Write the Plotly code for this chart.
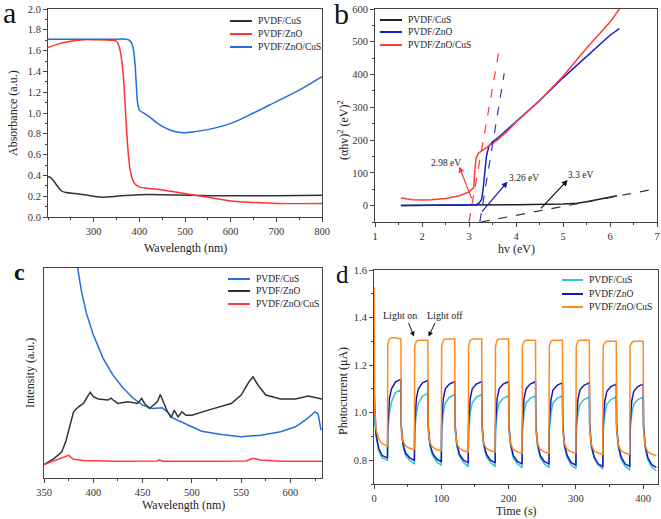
import plotly.graph_objects as go

# ---------------- panel a : UV-vis absorbance ----------------
a_cus_x = [200, 205, 210, 220, 230, 240, 260, 280, 300, 320, 340, 360, 400, 450, 500, 550, 600, 700, 800]
a_cus_y = [0.39, 0.38, 0.36, 0.30, 0.25, 0.235, 0.225, 0.215, 0.20, 0.19, 0.195, 0.205, 0.215, 0.215, 0.21, 0.205, 0.205, 0.205, 0.21]

a_zno_x = [200, 220, 250, 280, 300, 340, 350, 355, 360, 365, 370, 375, 380, 385, 390, 400, 420, 450, 500, 550, 600, 650, 700, 800]
a_zno_y = [1.63, 1.66, 1.69, 1.705, 1.705, 1.70, 1.69, 1.65, 1.55, 1.35, 1.00, 0.65, 0.45, 0.36, 0.32, 0.29, 0.275, 0.26, 0.225, 0.19, 0.155, 0.14, 0.13, 0.13]

a_zc_x = [200, 300, 350, 370, 378, 385, 390, 393, 396, 398, 400, 420, 440, 460, 480, 500, 520, 550, 600, 650, 700, 750, 800]
a_zc_y = [1.71, 1.71, 1.71, 1.71, 1.70, 1.65, 1.50, 1.30, 1.10, 1.06, 1.03, 0.97, 0.90, 0.85, 0.82, 0.81, 0.82, 0.84, 0.90, 1.00, 1.11, 1.22, 1.35]

# ---------------- panel b : Tauc plot ----------------
b_cus_x = [1.55, 3.0, 4.0, 5.0, 5.3, 5.5, 5.8, 6.0, 6.15]
b_cus_y = [0, 1, 3, 5, 7, 12, 20, 26, 30]

b_zno_x = [1.55, 3.0, 3.15, 3.22, 3.27, 3.30, 3.33, 3.37, 3.42, 3.5, 3.6, 3.8, 4.0, 4.5, 5.0, 5.5, 5.8, 6.0, 6.2]
b_zno_y = [0, 1, 3, 8, 20, 50, 100, 150, 180, 195, 205, 230, 258, 320, 390, 455, 495, 520, 540]

b_zc_x = [1.55, 1.8, 2.0, 2.2, 2.5, 2.8, 3.0, 3.1, 3.12, 3.15, 3.2, 3.4, 3.6, 3.8, 4.0, 4.5, 5.0, 5.5, 6.0, 6.2]
b_zc_y = [23, 18, 17, 18, 22, 30, 42, 55, 100, 145, 160, 180, 200, 225, 255, 320, 395, 480, 560, 600]

# fitted tangent lines (dashed)
b_fit_zc_x = [3.0, 3.66]
b_fit_zc_y = [-50, 491]
b_fit_zno_x = [3.23, 3.75]
b_fit_zno_y = [-50, 404]
b_fit_cus_x = [3.25, 6.86]
b_fit_cus_y = [-50, 48]

# ---------------- panel c : PL spectra ----------------
c_cus_x = [380, 384, 388, 393, 400, 410, 420, 430, 440, 450, 460, 470, 475, 480, 490, 500, 510, 530, 550, 570, 590, 605, 615, 625, 628, 631]
c_cus_y = [112, 100, 88.9, 78.5, 68.2, 57.0, 49.0, 43.0, 38.2, 34.7, 33.1, 33.4, 31.5, 28.7, 26.4, 24.4, 22.3, 20.7, 19.6, 20.4, 22.0, 24.4, 27.5, 31.5, 30.6, 22.8]

c_zno_x = [350, 360, 368, 372, 376, 380, 385, 390, 395, 397, 400, 405, 415, 418, 421, 425, 435, 445, 449, 452, 457, 462, 465, 468, 471, 475, 479, 482,
           486, 490, 494, 500, 520, 540, 550, 557, 562, 567, 575, 590, 605, 618, 632]
c_zno_y = [6.4, 9.2, 12.4, 17.2, 24.4, 31.5, 33.9, 35.5, 39.5, 40.8, 38.7, 37.6, 37.1, 38.0, 36.8, 35.5, 36.3, 35.5, 37.9, 35.5, 33.1, 35.2, 36.3, 39.8,
           36.3, 31.8, 28.7, 32.3, 29.1, 31.5, 29.9, 29.9, 32.8, 35.5, 39.5, 45.1, 48.2, 44.3, 39.5, 37.6, 37.6, 39.0, 37.6]

c_zc_x = [350, 365, 375, 380, 390, 420, 465, 467, 470, 520, 555, 562, 570, 590, 632]
c_zc_y = [6.4, 9.2, 10.8, 8.9, 8.3, 8.0, 8.1, 8.6, 8.0, 8.0, 8.1, 9.4, 8.6, 8.0, 8.0]

# ---------------- panel d : photocurrent on/off ----------------
d_t = [0, 1, 3, 7, 12, 19.5,
       20, 20.5, 23, 26, 32, 39.5, 40, 40.5, 43, 47, 53, 59.5,
       60, 60.5, 63, 66, 72, 79.5, 80, 80.5, 83, 87, 93, 99.5,
       100, 100.5, 103, 106, 112, 119.5, 120, 120.5, 123, 127, 133, 139.5,
       140, 140.5, 143, 146, 152, 159.5, 160, 160.5, 163, 167, 173, 179.5,
       180, 180.5, 183, 186, 192, 199.5, 200, 200.5, 203, 207, 213, 219.5,
       220, 220.5, 223, 226, 232, 239.5, 240, 240.5, 243, 247, 253, 259.5,
       260, 260.5, 263, 266, 272, 279.5, 280, 280.5, 283, 287, 293, 299.5,
       300, 300.5, 303, 306, 312, 319.5, 320, 320.5, 323, 327, 333, 339.5,
       340, 340.5, 343, 346, 352, 359.5, 360, 360.5, 363, 367, 373, 379.5,
       380, 380.5, 383, 386, 392, 399.5, 400, 400.5, 403, 407, 413, 419.5]

d_cus = [1.05, 0.97, 0.90, 0.84, 0.81, 0.80,
         0.80, 0.92, 1.00, 1.045, 1.085, 1.095, 1.095, 0.93, 0.86, 0.82, 0.80, 0.785,
         0.785, 0.92, 1.00, 1.04, 1.07, 1.08, 1.08, 0.93, 0.86, 0.82, 0.795, 0.78,
         0.78, 0.92, 1.00, 1.04, 1.065, 1.075, 1.075, 0.93, 0.86, 0.815, 0.79, 0.775,
         0.775, 0.92, 1.00, 1.04, 1.065, 1.075, 1.075, 0.93, 0.86, 0.815, 0.79, 0.775,
         0.775, 0.92, 1.00, 1.04, 1.06, 1.07, 1.07, 0.93, 0.86, 0.81, 0.785, 0.77,
         0.77, 0.92, 1.00, 1.04, 1.06, 1.07, 1.07, 0.93, 0.86, 0.81, 0.785, 0.77,
         0.77, 0.92, 1.00, 1.04, 1.06, 1.07, 1.07, 0.93, 0.855, 0.81, 0.78, 0.765,
         0.765, 0.92, 0.995, 1.035, 1.055, 1.065, 1.065, 0.93, 0.855, 0.81, 0.78, 0.765,
         0.765, 0.92, 0.995, 1.035, 1.055, 1.065, 1.065, 0.93, 0.855, 0.805, 0.775, 0.76,
         0.76, 0.92, 0.995, 1.035, 1.055, 1.065, 1.065, 0.93, 0.85, 0.80, 0.77, 0.755]

d_zno = [1.10, 1.00, 0.91, 0.85, 0.82, 0.81,
         0.81, 0.95, 1.06, 1.10, 1.13, 1.14, 1.14, 0.95, 0.87, 0.83, 0.81, 0.80,
         0.80, 0.95, 1.06, 1.10, 1.125, 1.135, 1.135, 0.95, 0.87, 0.83, 0.805, 0.795,
         0.795, 0.95, 1.06, 1.10, 1.12, 1.13, 1.13, 0.95, 0.87, 0.825, 0.80, 0.79,
         0.79, 0.95, 1.06, 1.10, 1.12, 1.13, 1.13, 0.95, 0.87, 0.825, 0.80, 0.79,
         0.79, 0.95, 1.06, 1.10, 1.12, 1.13, 1.13, 0.95, 0.87, 0.82, 0.795, 0.785,
         0.785, 0.95, 1.06, 1.10, 1.12, 1.13, 1.13, 0.95, 0.87, 0.82, 0.795, 0.785,
         0.785, 0.95, 1.055, 1.095, 1.115, 1.125, 1.125, 0.95, 0.865, 0.82, 0.79, 0.78,
         0.78, 0.95, 1.055, 1.095, 1.115, 1.125, 1.125, 0.95, 0.865, 0.815, 0.785, 0.775,
         0.775, 0.95, 1.05, 1.09, 1.11, 1.12, 1.12, 0.95, 0.865, 0.815, 0.785, 0.775,
         0.775, 0.95, 1.05, 1.09, 1.11, 1.12, 1.12, 0.95, 0.86, 0.81, 0.78, 0.77]

d_zc = [1.53, 1.02, 0.93, 0.89, 0.87, 0.86,
        0.86, 1.29, 1.31, 1.315, 1.315, 1.31, 1.31, 0.93, 0.88, 0.86, 0.85, 0.845,
        0.845, 1.28, 1.30, 1.305, 1.305, 1.305, 1.305, 0.93, 0.875, 0.855, 0.845, 0.84,
        0.84, 1.28, 1.305, 1.31, 1.31, 1.31, 1.31, 0.93, 0.87, 0.85, 0.84, 0.835,
        0.835, 1.28, 1.305, 1.31, 1.31, 1.31, 1.31, 0.93, 0.87, 0.85, 0.84, 0.835,
        0.835, 1.28, 1.305, 1.31, 1.31, 1.31, 1.31, 0.93, 0.87, 0.845, 0.835, 0.83,
        0.83, 1.28, 1.30, 1.305, 1.305, 1.305, 1.305, 0.93, 0.87, 0.845, 0.835, 0.83,
        0.83, 1.28, 1.30, 1.305, 1.305, 1.305, 1.305, 0.93, 0.87, 0.845, 0.835, 0.83,
        0.83, 1.28, 1.30, 1.305, 1.305, 1.305, 1.305, 0.93, 0.865, 0.84, 0.83, 0.825,
        0.825, 1.28, 1.295, 1.30, 1.30, 1.30, 1.30, 0.93, 0.865, 0.84, 0.83, 0.825,
        0.825, 1.28, 1.295, 1.30, 1.30, 1.30, 1.30, 0.93, 0.86, 0.835, 0.825, 0.82]

legend_names = ["PVDF/CuS", "PVDF/ZnO", "PVDF/ZnO/CuS"]

FONT = "Liberation Serif"
W, H = 661, 519


def px(x):
    return x / W


def py(y):
    return 1 - y / H


# colours per panel, in legend order
colors_a = ["#333333", "#ff3333", "#1f6fdc"]
colors_b = ["#222222", "#1020c8", "#ff3b3b"]
colors_c = ["#1f6fdc", "#333333", "#ff3b3b"]
colors_d = ["#2ec8c8", "#1a1ab8", "#ff8a1c"]

fig = go.Figure()

panels = [
    ("x", "y", [(a_cus_x, a_cus_y), (a_zno_x, a_zno_y), (a_zc_x, a_zc_y)], colors_a, "spline"),
    ("x2", "y2", [(b_cus_x, b_cus_y), (b_zno_x, b_zno_y), (b_zc_x, b_zc_y)], colors_b, "linear"),
    ("x3", "y3", [(c_cus_x, c_cus_y), (c_zno_x, c_zno_y), (c_zc_x, c_zc_y)], colors_c, "linear"),
    ("x4", "y4", [(d_t, d_cus), (d_t, d_zno), (d_t, d_zc)], colors_d, "linear"),
]
for xa, ya, series, cols, shp in panels:
    for (sx, sy), col, nm in zip(series, cols, legend_names):
        fig.add_trace(go.Scatter(x=sx, y=sy, name=nm, mode="lines", line=dict(color=col, width=1.5, shape=shp),
                                 xaxis=xa, yaxis=ya, showlegend=False))

for fx, fy, col in [(b_fit_zc_x, b_fit_zc_y, "#ff3b3b"), (b_fit_zno_x, b_fit_zno_y, "#3a3ab0"), (b_fit_cus_x, b_fit_cus_y, "#333333")]:
    fig.add_trace(go.Scatter(x=fx, y=fy, mode="lines", line=dict(color=col, width=1.2, dash="dash"),
                             xaxis="x2", yaxis="y2", showlegend=False))

tickfont = dict(family=FONT, size=10.5, color="#333333")


def ax(domain, rng, tickvals=None, minor=None, anchor=None, fmt=None, labels=True):
    d = dict(domain=domain, range=rng, showline=True, linecolor="#444444", linewidth=1, mirror=True,
             ticks="outside" if labels else "", ticklen=4, tickcolor="#444444", showgrid=False, zeroline=False,
             tickfont=tickfont, anchor=anchor, showticklabels=labels, automargin=False)
    if tickvals is not None:
        d["tickvals"] = tickvals
    if minor is not None:
        d["minor"] = dict(dtick=minor, ticklen=2, ticks="outside", tickcolor="#444444", showgrid=False)
    if fmt:
        d["tickformat"] = fmt
    return d


fig.update_layout(
    template="none",
    width=W, height=H, margin=dict(l=0, r=0, t=0, b=0),
    paper_bgcolor="white", plot_bgcolor="white",
    font=dict(family=FONT, color="#222222"),
    showlegend=False,
    xaxis=ax([px(48), px(322)], [200, 800], [300, 400, 500, 600, 700, 800], 50, "y"),
    yaxis=ax([py(217), py(9)], [0, 2.0], [0, 0.2, 0.4, 0.6, 0.8, 1.0, 1.2, 1.4, 1.6, 1.8, 2.0], 0.1, "x", ".1f"),
    xaxis2=ax([px(375), px(657)], [1, 7], [1, 2, 3, 4, 5, 6, 7], 0.5, "y2"),
    yaxis2=ax([py(222), py(9)], [-50, 600], [0, 100, 200, 300, 400, 500, 600], 50, "x2"),
    xaxis3=ax([px(44), px(322)], [350, 632], [350, 400, 450, 500, 550, 600], 25, "y3"),
    yaxis3=ax([py(478), py(268)], [0, 100], anchor="x3", labels=False),
    xaxis4=ax([px(374), px(658)], [0, 422], [0, 100, 200, 300, 400], 50, "y4"),
    yaxis4=ax([py(484), py(270)], [0.7, 1.6], [0.8, 1.0, 1.2, 1.4, 1.6], 0.1, "x4", ".1f"),
)

# axis titles (placed as text so their positions follow the reference)
titlefont = dict(family=FONT, size=12, color="#222222")
for txt, x, y, ang in [("Wavelength (nm)", 185, 248, 0), ("Absorbance (a.u.)", 13, 113, -90),
                       ("hv (eV)", 516, 249, 0), ("(αhv)<sup>2</sup> (eV)<sup>2</sup>", 343, 130, -90),
                       ("Wavelength (nm)", 183, 505, 0), ("Intensity (a.u.)", 30, 373, -90),
                       ("Time (s)", 516, 511, 0), ("Photocurrent (μA)", 343, 391, -90)]:
    fig.add_annotation(text=txt, x=px(x), y=py(y), xref="paper", yref="paper", xanchor="center", yanchor="middle",
                       textangle=ang, showarrow=False, font=titlefont)

# legends drawn by hand so the row spacing matches
legfont = dict(family=FONT, size=9.5, color="#222222")
legends = [(230, 252, [21, 34, 47], colors_a), (380, 402, [20, 32, 45], colors_b),
           (228, 250, [279, 291, 304], colors_c), (562, 583, [280, 294, 307], colors_d)]
for x0, x1, rows, cols in legends:
    for yy, col, nm in zip(rows, cols, legend_names):
        fig.add_shape(type="line", xref="paper", yref="paper", x0=px(x0), x1=px(x1), y0=py(yy), y1=py(yy),
                      line=dict(color=col, width=2))
        fig.add_annotation(text=nm, x=px(x1 + 4), y=py(yy), xref="paper", yref="paper", xanchor="left",
                           yanchor="middle", showarrow=False, font=legfont)

# panel letters
for letter, x0, y0, size, bold in [("a", 1, -6, 30, False), ("b", 332, -5, 30, False),
                                   ("c", 12, 257, 24, True), ("d", 334, 259, 25, False)]:
    fig.add_annotation(text="<b>%s</b>" % letter if bold else letter, x=px(x0), y=py(y0), xref="paper", yref="paper",
                       xanchor="left", yanchor="top", showarrow=False, font=dict(family=FONT, size=size, color="#111111"))

# band gap arrows in b
for tx, ty, hx, hy, col in [(3.07, 17, 2.79, 119, "#ff3b3b"),
                            (3.25, -23, 3.82, 73, "#1a1ab8"),
                            (4.5, -13, 5.1, 78, "#111111")]:
    fig.add_annotation(x=hx, y=hy, ax=tx, ay=ty, xref="x2", yref="y2", axref="x2", ayref="y2", text="",
                       showarrow=True, arrowhead=2, arrowsize=1, arrowwidth=1.2, arrowcolor=col)
for txt, x, y in [("2.98 eV", 2.5, 129), ("3.26 eV", 4.18, 83), ("3.3 eV", 5.38, 94)]:
    fig.add_annotation(x=x, y=y, xref="x2", yref="y2", text=txt, showarrow=False,
                       font=dict(family=FONT, size=9.5, color="#222222"))

# light on / off labels in d
for txt, x, y, tailx, hx in [("Light on", 38, 1.41, 50.5, 59.5), ("Light off", 105, 1.41, 91.7, 81)]:
    fig.add_annotation(x=x, y=y, xref="x4", yref="y4", text=txt, showarrow=False,
                       font=dict(family=FONT, size=10, color="#222222"))
    fig.add_annotation(x=hx, y=1.32, ax=tailx, ay=1.383, xref="x4", yref="y4", axref="x4", ayref="y4", text="",
                       showarrow=True, arrowhead=2, arrowsize=1, arrowwidth=1, arrowcolor="#111111")

# the page body has a default 8px margin; drop it so the figure sits at the window's corner
fig.write_html("out.html", config={"displayModeBar": False},
               post_script="document.body.style.margin='0';")
